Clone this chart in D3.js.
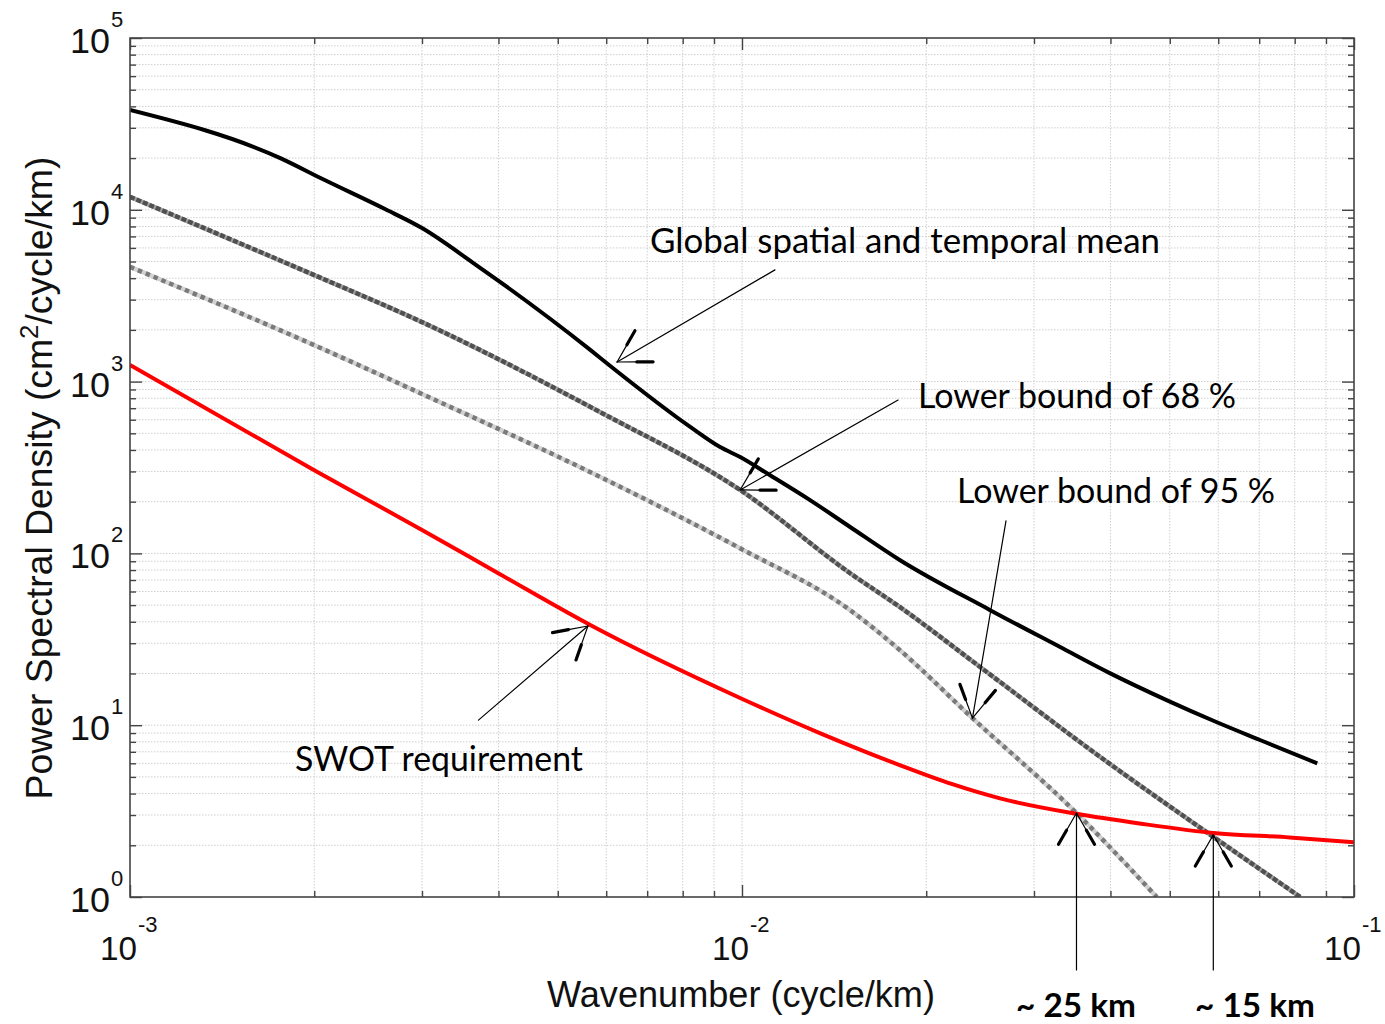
<!DOCTYPE html>
<html>
<head>
<meta charset="utf-8">
<script src="https://cdn.jsdelivr.net/npm/d3@7"></script>
<style>
  body { margin: 0; background: #fff; }
  svg { display: block; }
  .ax { font-family: "Liberation Sans", Arial, Helvetica, sans-serif; fill: #111; }
  .note { font-family: Lato, "Open Sans", sans-serif; fill: #000; }
</style>
</head>
<body>
<script>
// Sea surface height wavenumber spectra compared with the SWOT error requirement

// Global spatial and temporal mean spectrum
const meanK   = [0.001, 0.00176, 0.00208, 0.00261, 0.0030, 0.00364, 0.00565, 0.00615, 0.00823, 0.00921, 0.00993, 0.0111, 0.0129, 0.0150, 0.0181, 0.0254, 0.0331, 0.0399, 0.0494, 0.0597, 0.0702, 0.0871];
const meanPSD = [38100, 20000, 14900, 10100, 7830, 4900, 1530, 1200, 545, 416, 364, 286, 205, 143, 91.6, 46.9, 28.5, 20.1, 14.0, 10.4, 8.2, 6.0];

// Lower bound of the 68 % interval
const low68K   = [0.001, 0.002, 0.003, 0.00586, 0.00993, 0.0150, 0.0181, 0.0245, 0.0385, 0.0589, 0.0817];
const low68PSD = [11900, 4170, 2220, 665, 234, 76.9, 48.8, 21.8, 6.53, 2.24, 1.0];

// Lower bound of the 95 % interval
const low95K   = [0.001, 0.002, 0.003, 0.00586, 0.00993, 0.0150, 0.0181, 0.0238, 0.0352, 0.0476];
const low95PSD = [4650, 1630, 847, 279, 107, 46.9, 27.4, 11.0, 3.08, 1.0];

// SWOT requirement
const swotK   = [0.001, 0.002, 0.003, 0.00399, 0.00565, 0.00993, 0.0134, 0.0181, 0.0220, 0.0264, 0.0352, 0.0446, 0.0589, 0.0785, 0.1];
const swotPSD = [1250, 305, 137, 76.9, 38.3, 14.4, 9.0, 5.86, 4.55, 3.75, 3.05, 2.68, 2.36, 2.22, 2.08];

// Decade tick labels (powers of ten)
const xTickExps = [-3, -2, -1];
const yTickExps = [0, 1, 2, 3, 4, 5];

// Text annotations with arrows (tip and tail in data units)
const notes = [
  { text: "Global spatial and temporal mean", tx: 650, ty: 253, w: 510, tip: [0.00625, 1300], tail: [0.01132, 4470] },
  { text: "Lower bound of 68 %",              tx: 918, ty: 408, w: 318, tip: [0.00993, 234],  tail: [0.01799, 781] },
  { text: "Lower bound of 95 %",              tx: 957, ty: 503, w: 318, tip: [0.0238, 11.0],  tail: [0.0270, 154.6] },
  { text: "SWOT requirement",                 tx: 295, ty: 771, w: 288, tip: [0.0056, 37.8],  tail: [0.00371, 10.7] }
];
// Crossing points marked by vertical arrows with a scale in km
const crossK     = [0.0352, 0.0589];
const crossPSD   = [3.08, 2.3];
const crossLabel = ["~ 25 km", "~ 15 km"];
const crossTextX = [1076, 1255];

const W = 1385, H = 1024;
const P = { left: 130, right: 1354, top: 38, bottom: 897 };

const x = d3.scaleLog().domain([1e-3, 1e-1]).range([P.left, P.right]);
const y = d3.scaleLog().domain([1, 1e5]).range([P.bottom, P.top]);

const svg = d3.select("body").append("svg")
  .attr("width", W).attr("height", H)
  .attr("viewBox", `0 0 ${W} ${H}`);

svg.append("rect").attr("width", W).attr("height", H).attr("fill", "#fff");

svg.append("defs").append("clipPath").attr("id", "plotclip")
  .append("rect").attr("x", P.left).attr("y", P.top)
  .attr("width", P.right - P.left).attr("height", P.bottom - P.top);

// Scale a text element's font size so that it spans the given width
function fitWidth(sel, width) {
  sel.each(function () {
    const fs = parseFloat(this.getAttribute("font-size"));
    const len = this.getComputedTextLength();
    if (len > 0) this.setAttribute("font-size", (fs * width / len).toFixed(2));
  });
}

const isMajor = v => Math.abs(Math.log10(v) - Math.round(Math.log10(v))) < 1e-9;
const xAll = x.ticks();
const yAll = y.ticks();

// Dotted grid (major and minor)
const grid = svg.append("g").attr("stroke", "#cfcfcf").attr("stroke-width", 1)
  .attr("stroke-dasharray", "1.5,1.5").attr("fill", "none");
grid.selectAll(".gx").data(xAll.filter(v => v > 1e-3 && v < 1e-1)).join("line")
  .attr("x1", d => x(d)).attr("x2", d => x(d)).attr("y1", P.top).attr("y2", P.bottom);
grid.selectAll(".gy").data(yAll.filter(v => v > 1 && v < 1e5)).join("line")
  .attr("y1", d => y(d)).attr("y2", d => y(d)).attr("x1", P.left).attr("x2", P.right);

// Inward ticks on all four sides
const tickCol = "#444";
function ticks(axisFn, scale, vals, size, transform) {
  const g = svg.append("g").attr("transform", transform)
    .call(axisFn(scale).tickValues(vals).tickSize(size).tickFormat(""));
  g.select(".domain").remove();
  g.selectAll("line").attr("stroke", tickCol).attr("stroke-width", 1.4);
}
const xMaj = xAll.filter(isMajor), xMin = xAll.filter(v => !isMajor(v));
const yMaj = yAll.filter(isMajor), yMin = yAll.filter(v => !isMajor(v));
ticks(d3.axisBottom, x, xMaj, -12, `translate(0,${P.bottom})`);
ticks(d3.axisBottom, x, xMin, -6,  `translate(0,${P.bottom})`);
ticks(d3.axisTop,    x, xMaj, -12, `translate(0,${P.top})`);
ticks(d3.axisTop,    x, xMin, -6,  `translate(0,${P.top})`);
ticks(d3.axisLeft,   y, yMaj, -12, `translate(${P.left},0)`);
ticks(d3.axisLeft,   y, yMin, -6,  `translate(${P.left},0)`);
ticks(d3.axisRight,  y, yMaj, -12, `translate(${P.right},0)`);
ticks(d3.axisRight,  y, yMin, -6,  `translate(${P.right},0)`);

// Curves
const line = d3.line().x(d => x(d[0])).y(d => y(d[1])).curve(d3.curveMonotoneX);
const zip = (a, b) => a.map((v, i) => [v, b[i]]);
const curves = svg.append("g").attr("clip-path", "url(#plotclip)").attr("fill", "none")
  .attr("stroke-linejoin", "round");

// 95 % bound: light grey line with darker dashes
curves.append("path").attr("d", line(zip(low95K, low95PSD)))
  .attr("stroke", "#d2d2d2").attr("stroke-width", 4.5);
curves.append("path").attr("d", line(zip(low95K, low95PSD)))
  .attr("stroke", "#7a7a7a").attr("stroke-width", 4.5).attr("stroke-dasharray", "4.5,4");

// 68 % bound: darker dotted line
curves.append("path").attr("d", line(zip(low68K, low68PSD)))
  .attr("stroke", "#a0a0a0").attr("stroke-width", 4.5);
curves.append("path").attr("d", line(zip(low68K, low68PSD)))
  .attr("stroke", "#505050").attr("stroke-width", 4.5).attr("stroke-dasharray", "5,2");

// SWOT requirement
curves.append("path").attr("d", line(zip(swotK, swotPSD)))
  .attr("stroke", "#ff0000").attr("stroke-width", 4);

// Global mean
curves.append("path").attr("d", line(zip(meanK, meanPSD)))
  .attr("stroke", "#000").attr("stroke-width", 4);

// Axes box
svg.append("rect").attr("x", P.left).attr("y", P.top)
  .attr("width", P.right - P.left).attr("height", P.bottom - P.top)
  .attr("fill", "none").attr("stroke", tickCol).attr("stroke-width", 1.6);

// Tick labels: 10 with superscript exponent
const yl = svg.append("g").attr("class", "ax");
yTickExps.forEach(e => {
  const py = y(Math.pow(10, e));
  const t = yl.append("text").attr("x", 110).attr("y", py + 15).attr("text-anchor", "end")
    .attr("font-size", 36).text("10");
  fitWidth(t, 40);
  yl.append("text").attr("x", 111).attr("y", py - 11)
    .attr("font-size", 22).text(String(e));
});
const xl = svg.append("g").attr("class", "ax");
xTickExps.forEach(e => {
  const px = x(Math.pow(10, e));
  const t = xl.append("text").attr("x", px + 7).attr("y", 960).attr("text-anchor", "end")
    .attr("font-size", 36).text("10");
  fitWidth(t, 37);
  xl.append("text").attr("x", px + 8).attr("y", 932)
    .attr("font-size", 22).text(String(e));
});

// Axis titles
const xt = svg.append("text").attr("class", "ax").attr("x", 741).attr("y", 1007)
  .attr("text-anchor", "middle").attr("font-size", 32)
  .text("Wavenumber (cycle/km)");
fitWidth(xt, 388);
const yt = svg.append("text").attr("class", "ax").attr("transform", "translate(52,478) rotate(-90)")
  .attr("text-anchor", "middle").attr("font-size", 32);
yt.append("tspan").text("Power Spectral Density (cm");
yt.append("tspan").attr("font-size", 22).attr("dy", -14).text("2");
yt.append("tspan").attr("dy", 14).text("/cycle/km)");
{
  const len = yt.node().getComputedTextLength();
  const k = 643 / len;
  yt.attr("font-size", (32 * k).toFixed(2));
  yt.select("tspan:nth-child(2)").attr("font-size", (22 * k).toFixed(2));
}

// Arrow drawing: thin shaft and two barbs with heavier outer ends
const arrows = svg.append("g").attr("stroke", "#000").attr("fill", "none").attr("stroke-linecap", "round");
function arrow(tx, ty, sx, sy) {
  arrows.append("line").attr("x1", sx).attr("y1", sy).attr("x2", tx).attr("y2", ty).attr("stroke-width", 1.2);
  const ang = Math.atan2(sy - ty, sx - tx);
  [-Math.PI / 6, Math.PI / 6].forEach(da => {
    const a = ang + da, L = 36;
    const ex = tx + L * Math.cos(a), ey = ty + L * Math.sin(a);
    const mx = tx + L * 0.55 * Math.cos(a), my = ty + L * 0.55 * Math.sin(a);
    arrows.append("line").attr("x1", tx).attr("y1", ty).attr("x2", mx).attr("y2", my).attr("stroke-width", 1.2);
    arrows.append("line").attr("x1", mx).attr("y1", my).attr("x2", ex).attr("y2", ey).attr("stroke-width", 3.2);
  });
}
notes.forEach(n => arrow(x(n.tip[0]), y(n.tip[1]), x(n.tail[0]), y(n.tail[1])));
crossK.forEach((k, i) => arrow(x(k), y(crossPSD[i]), x(k), 970));

// Annotation text
const nt = svg.append("g").attr("class", "note")
  .selectAll("text").data(notes).join("text")
  .attr("x", d => d.tx).attr("y", d => d.ty).attr("font-size", 32).text(d => d.text);
nt.each(function (d) { fitWidth(d3.select(this), d.w); });
const bt = svg.append("g").attr("class", "note").attr("font-weight", "bold")
  .selectAll("text").data(crossLabel).join("text")
  .attr("x", (d, i) => crossTextX[i]).attr("y", 1017).attr("text-anchor", "middle")
  .attr("font-size", 32).text(d => d);
bt.each(function () { fitWidth(d3.select(this), 120); });
</script>
</body>
</html>
